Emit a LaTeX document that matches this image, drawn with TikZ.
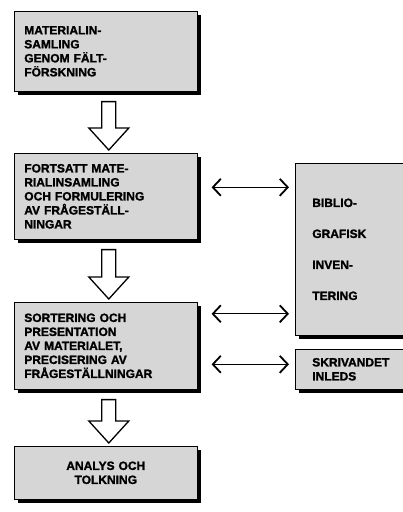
\documentclass[tikz,border=0pt]{standalone}
\usepackage{fontspec}
\setmainfont{Liberation Sans}[BoldFeatures={FakeBold=1.5}]
\usetikzlibrary{calc,shadows,arrows.meta}
\tikzset{
	stage/.style={draw=black,line width=0.6pt,fill=black!16,anchor=north west,
		minimum width=183pt,text width=163pt,inner xsep=10pt,align=left,
		font=\fontsize{12}{14}\selectfont\bfseries,
		drop shadow={shadow xshift=4pt,shadow yshift=-4pt,fill=black,opacity=1}},
	hollow/.style={draw=black,line width=1.3pt,fill=white,line join=miter},
	link/.style={line width=1.2pt,{Straight Barb[length=8pt,width=17pt,line width=1.8pt]}-{Straight Barb[length=8pt,width=17pt,line width=1.8pt]}}
}
\newcommand{\flowarrow}[2]{%
	\draw[hollow] let \p1=($(#1.south)+(3pt,-10pt)$), \p2=($(#2.north)+(3pt,3pt)$) in
	(\x1-7pt,\y1) -- (\x1+7pt,\y1) -- (\x1+7pt,\y2+22pt) -- (\x1+20pt,\y2+22pt)
	-- (\x1,\y2) -- (\x1-20pt,\y2+22pt) -- (\x1-7pt,\y2+22pt) -- cycle;}
\begin{document}
\begin{tikzpicture}[x=1pt,y=-1pt]
	\useasboundingbox (0,0) rectangle (403,512);
	\node[stage,minimum height=80pt] (samling) at (14,11) {MATERIALIN-\\SAMLING\\GENOM FÄLT-\\FÖRSKNING};
	\node[stage,minimum height=86pt] (fortsatt) at (14,153) {FORTSATT MATE-\\RIALINSAMLING\\OCH FORMULERING\\AV FRÅGESTÄLL-\\NINGAR};
	\node[stage,minimum height=87pt] (sortering) at (14,302) {SORTERING OCH\\PRESENTATION\\AV MATERIALET,\\PRECISERING AV\\FRÅGESTÄLLNINGAR};
	\node[stage,minimum height=53pt,align=center] (analys) at (14,446) {ANALYS OCH\\TOLKNING};
	\node[stage,minimum width=150pt,text width=123pt,inner xsep=17pt,minimum height=172pt] (biblio) at (295,163)
		{BIBLIO-\\[17pt]GRAFISK\\[17pt]INVEN-\\[17pt]TERING};
	\node[stage,minimum width=150pt,text width=123pt,inner xsep=17pt,minimum height=40pt] (skriv) at (295,349)
		{SKRIVANDET\\INLEDS};
	\flowarrow{samling}{fortsatt}
	\flowarrow{fortsatt}{sortering}
	\flowarrow{sortering}{analys}
	\draw[link,shorten <=14pt,shorten >=6pt] ([yshift=9pt]fortsatt.east) -- ([yshift=9pt]fortsatt.east -| biblio.west);
	\draw[link,shorten <=14pt,shorten >=6pt] ([yshift=32pt]sortering.east) -- ([yshift=32pt]sortering.east -| biblio.west);
	\draw[link,shorten <=14pt,shorten >=6pt] ([yshift=5pt]skriv.west -| sortering.east) -- ([yshift=5pt]skriv.west);
\end{tikzpicture}
\end{document}
